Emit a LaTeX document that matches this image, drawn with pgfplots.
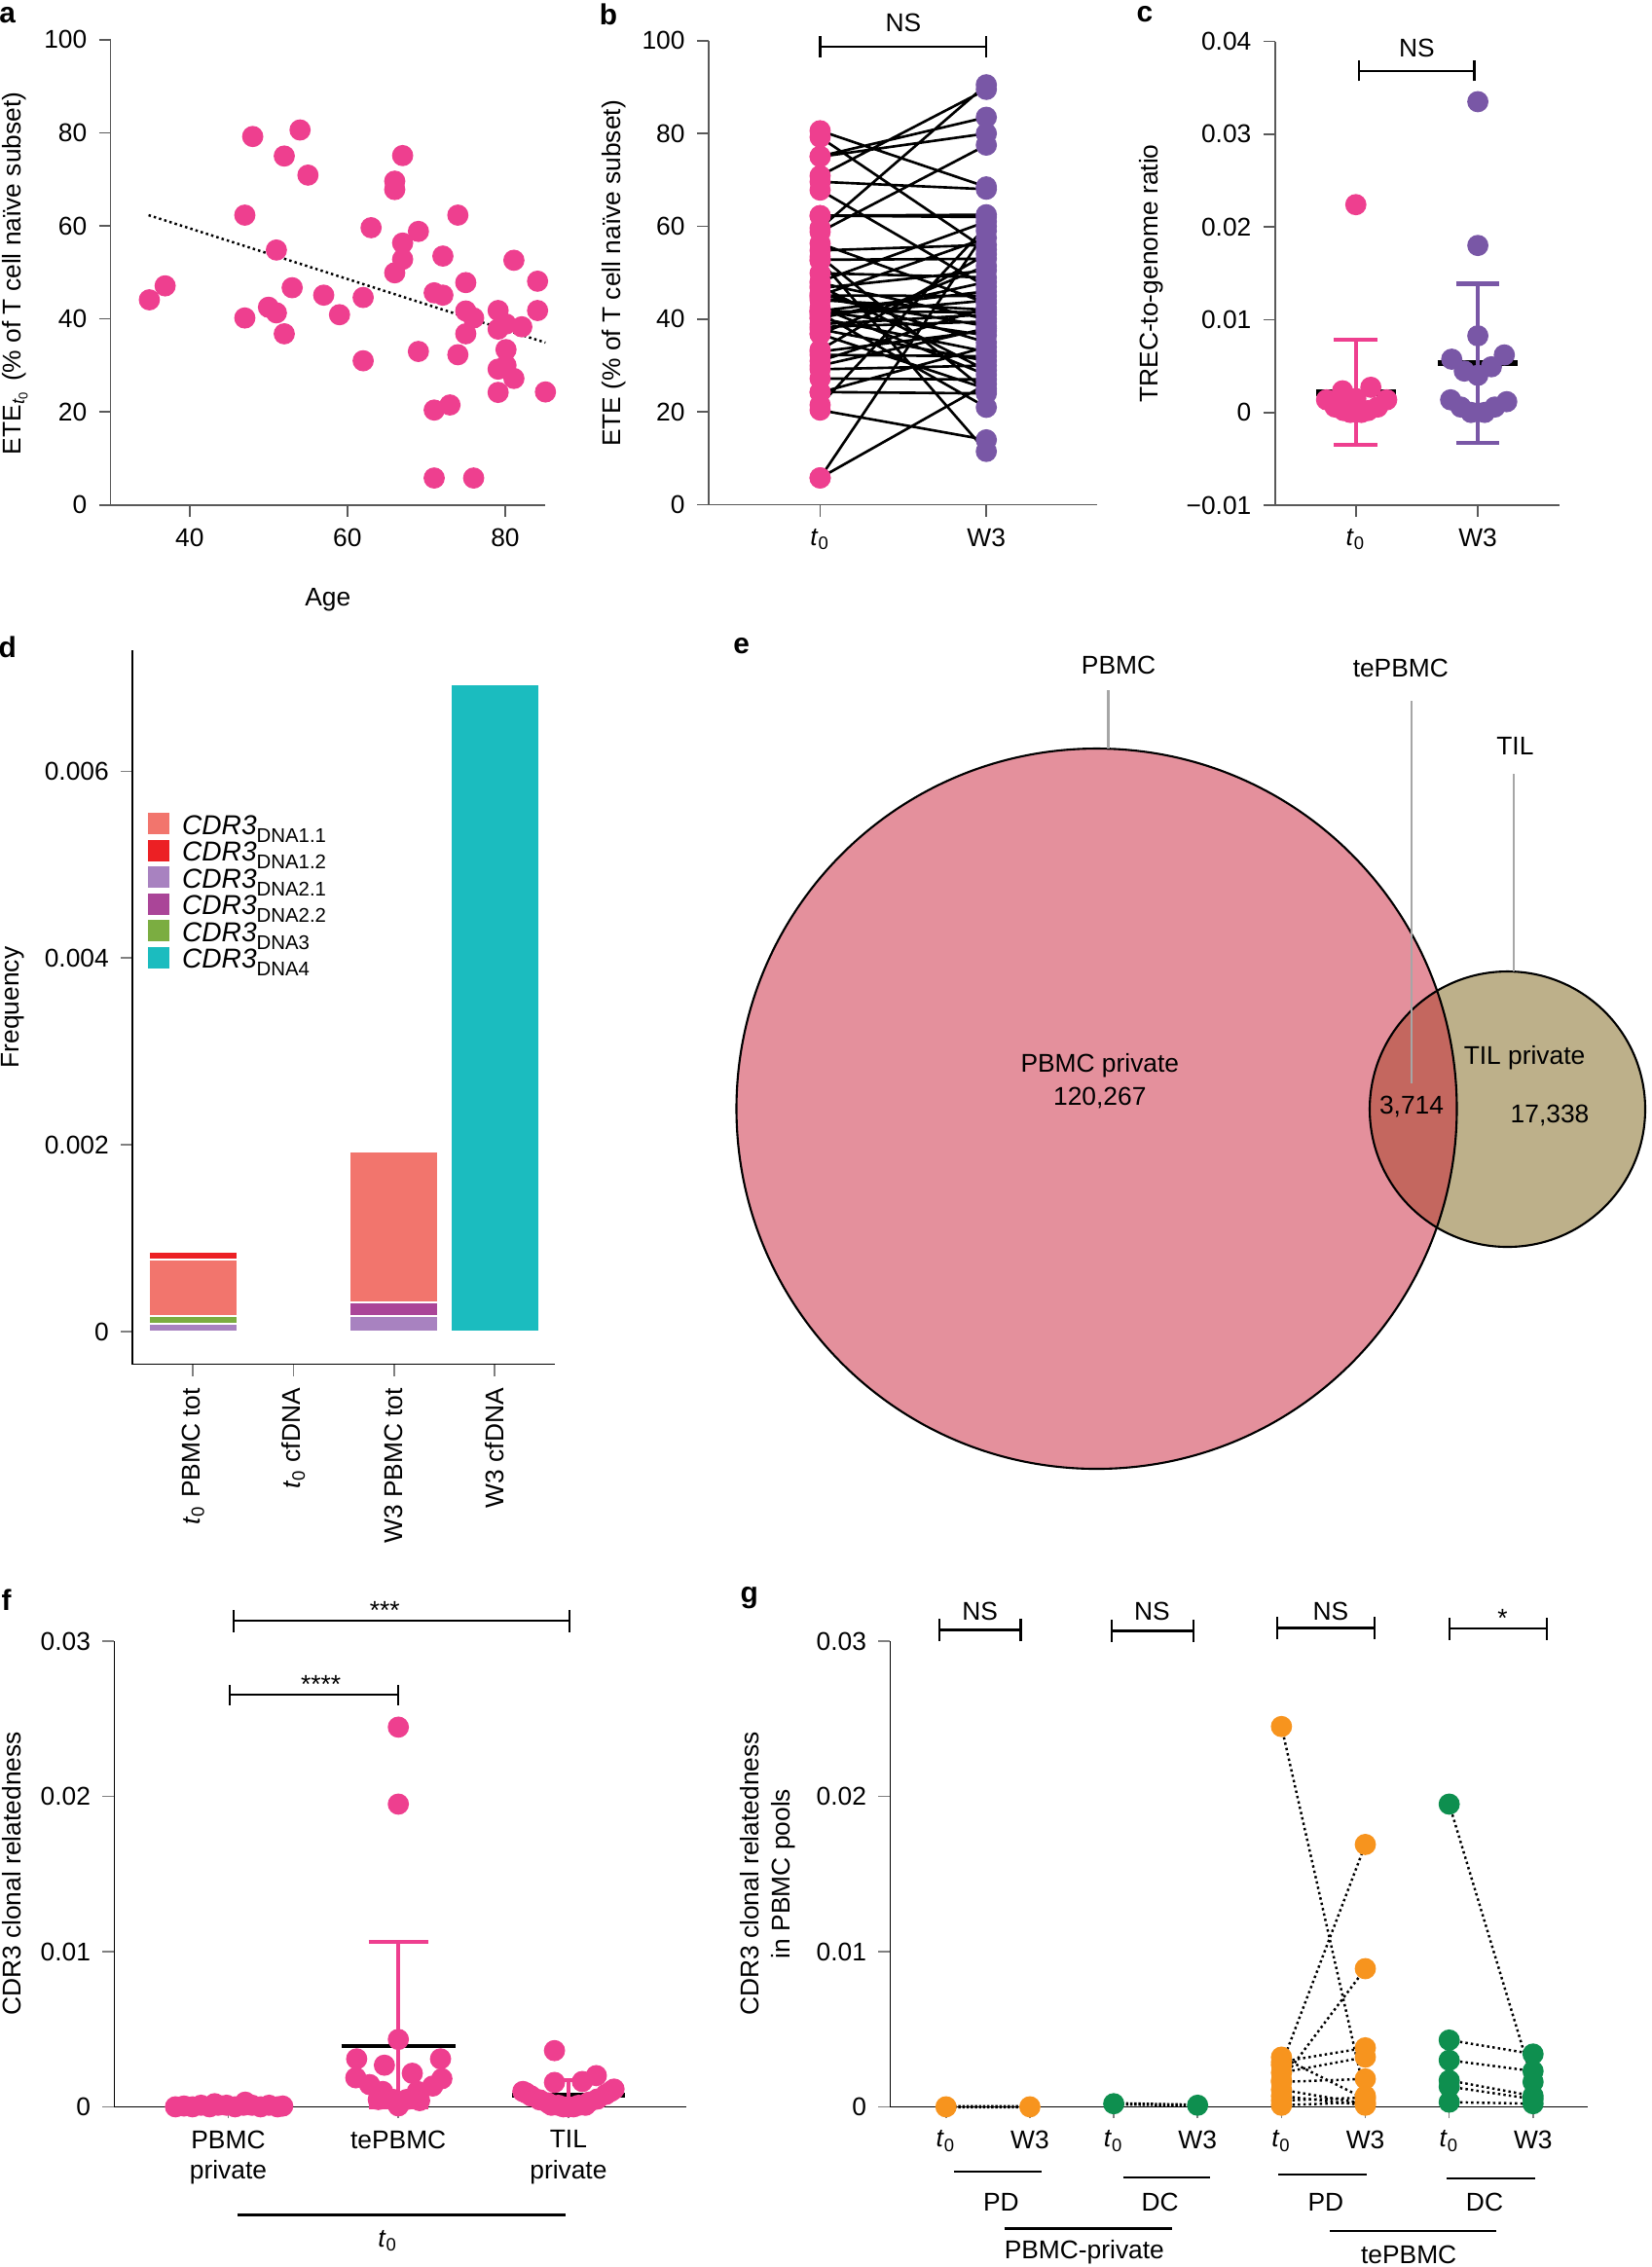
\documentclass[border=0pt]{standalone}
\usepackage{fontspec}
\setmainfont{Liberation Sans}
\usepackage{pgfplots}
\pgfplotsset{compat=1.18}
\definecolor{pk}{RGB}{238,63,143}
\definecolor{pu}{RGB}{121,87,166}
\definecolor{og}{RGB}{247,148,30}
\definecolor{gr}{RGB}{14,143,79}
\definecolor{salmon}{RGB}{242,117,109}
\definecolor{dred}{RGB}{236,32,36}
\definecolor{lilac}{RGB}{168,130,192}
\definecolor{mag}{RGB}{170,69,152}
\definecolor{lgreen}{RGB}{123,173,65}
\definecolor{tealc}{RGB}{27,188,191}
\definecolor{vbig}{RGB}{228,144,156}
\definecolor{vsmall}{RGB}{189,176,138}
\definecolor{vint}{RGB}{196,103,95}
\newcommand{\fs}{\fontsize{7.5}{9}\selectfont}
\newcommand{\tz}{\textit{t}\textsubscript{0}}
\tikzset{brk/.style={line width=0.65pt}}
\pgfplotsset{
  base/.style={scale only axis, axis lines=left, axis line style={-, line width=0.45pt},
    tick style={line width=0.45pt}, tick align=outside, major tick length=1.2mm,
    clip=false, enlargelimits=false, scaled ticks=false, anchor=south west,
    font=\fs, tick label style={font=\fs}},
  gray axes/.style={axis line style={black!65}, tick style={black!65}},
  dotm/.style={only marks, mark=*, mark size=2.9pt},
  dotl/.style={line width=0.7pt, dash pattern=on 0.7pt off 0.9pt},
}
\begin{document}
\begin{tikzpicture}
\path[use as bounding box] (0,0) rectangle (16.97cm,-23.29cm);

% ---------------- panel a ----------------
\begin{axis}[base, gray axes, at={(1.137cm,-5.188cm)}, width=4.458cm, height=4.78cm,
  xmin=30, xmax=85, ymin=0, ymax=100,
  xtick={40,60,80}, xticklabels={40,60,80},
  ytick={0,20,40,60,80,100}, yticklabels={0,20,40,60,80,100}]
\addplot[dotm, pk] coordinates {
(34.9,44.1) (36.9,47.1) (47.0,40.2) (47.0,62.3) (48.0,79.2) (50.0,42.5) (51.0,41.3)
(51.0,54.8) (52.0,75.0) (52.0,36.8) (53.0,46.7) (54.0,80.6) (55.0,70.9) (57.0,45.1)
(59.0,40.9) (62.0,44.6) (62.0,31.0) (63.0,59.6) (66.0,69.6) (66.0,67.8) (66.0,49.9)
(67.0,75.1) (67.0,56.3) (67.0,52.8) (69.0,58.8) (69.0,33.0) (71.0,45.6) (71.0,20.4)
(71.0,5.8) (72.1,53.5) (72.1,45.1) (73.0,21.5) (74.0,62.3) (74.0,32.3) (75.0,47.8)
(75.0,41.7) (75.0,36.8) (76.0,40.2) (76.0,5.8) (79.1,41.8) (79.1,37.8) (79.1,29.2)
(79.1,24.2) (80.1,38.9) (80.1,33.4) (80.1,30.0) (81.1,52.6) (81.1,27.2) (82.1,38.3)
(84.1,48.1) (84.1,41.8) (85.1,24.3)};
\addplot[dotl, black] coordinates {(34.8,62.3) (85.1,34.9)};
\end{axis}

% ---------------- panel b ----------------
\begin{axis}[base, gray axes, at={(7.279cm,-5.186cm)}, width=3.988cm, height=4.768cm,
  xmin=-0.671, xmax=1.665, ymin=0, ymax=100,
  xtick={0,1}, xticklabels={\tz,W3},
  ytick={0,20,40,60,80,100}, yticklabels={0,20,40,60,80,100}]
\addplot[black, line width=0.75pt, unbounded coords=jump] coordinates {
(0,80.6) (1,68.5) (0,nan) (0,79.2) (1,55.0) (0,nan) (0,75.1) (1,83.5) (0,nan)
(0,75.0) (1,80.0) (0,nan) (0,70.9) (1,89.5) (0,nan) (0,69.6) (1,68.0) (0,nan)
(0,67.8) (1,47.0) (0,nan) (0,62.3) (1,62.5) (0,nan) (0,62.3) (1,62.0) (0,nan)
(0,59.6) (1,90.5) (0,nan) (0,58.8) (1,77.5) (0,nan) (0,56.3) (1,43.5) (0,nan)
(0,54.8) (1,56.0) (0,nan) (0,53.5) (1,24.5) (0,nan) (0,52.8) (1,53.0) (0,nan)
(0,52.6) (1,11.5) (0,nan) (0,49.9) (1,49.0) (0,nan) (0,48.1) (1,61.0) (0,nan)
(0,47.8) (1,40.0) (0,nan) (0,47.1) (1,29.0) (0,nan) (0,46.7) (1,50.5) (0,nan)
(0,45.6) (1,35.0) (0,nan) (0,45.1) (1,45.0) (0,nan) (0,45.1) (1,57.5) (0,nan)
(0,44.6) (1,38.5) (0,nan) (0,44.1) (1,42.0) (0,nan) (0,42.5) (1,28.0) (0,nan)
(0,41.8) (1,46.0) (0,nan) (0,41.8) (1,36.5) (0,nan) (0,41.7) (1,41.5) (0,nan)
(0,41.3) (1,21.0) (0,nan) (0,40.9) (1,44.0) (0,nan) (0,40.2) (1,33.0) (0,nan)
(0,40.2) (1,48.0) (0,nan) (0,38.9) (1,41.0) (0,nan) (0,38.3) (1,39.5) (0,nan)
(0,37.8) (1,31.0) (0,nan) (0,36.8) (1,51.5) (0,nan) (0,36.8) (1,25.0) (0,nan)
(0,33.4) (1,54.0) (0,nan) (0,33.0) (1,37.5) (0,nan) (0,32.3) (1,32.0) (0,nan)
(0,31.0) (1,42.5) (0,nan) (0,30.0) (1,38.0) (0,nan) (0,29.2) (1,30.0) (0,nan)
(0,27.2) (1,27.0) (0,nan) (0,24.3) (1,24.0) (0,nan) (0,24.2) (1,34.0) (0,nan)
(0,21.5) (1,60.0) (0,nan) (0,20.4) (1,14.0) (0,nan) (0,5.8) (1,59.0) (0,nan)
(0,5.8) (1,26.0)};
\addplot[dotm, pk] coordinates {
(0,80.6) (0,79.2) (0,75.1) (0,75.0) (0,70.9) (0,69.6) (0,67.8) (0,62.3) (0,62.3)
(0,59.6) (0,58.8) (0,56.3) (0,54.8) (0,53.5) (0,52.8) (0,52.6) (0,49.9) (0,48.1)
(0,47.8) (0,47.1) (0,46.7) (0,45.6) (0,45.1) (0,45.1) (0,44.6) (0,44.1) (0,42.5)
(0,41.8) (0,41.8) (0,41.7) (0,41.3) (0,40.9) (0,40.2) (0,40.2) (0,38.9) (0,38.3)
(0,37.8) (0,36.8) (0,36.8) (0,33.4) (0,33.0) (0,32.3) (0,31.0) (0,30.0) (0,29.2)
(0,27.2) (0,24.3) (0,24.2) (0,21.5) (0,20.4) (0,5.8) (0,5.8)};
\addplot[dotm, pu] coordinates {
(1,90.5) (1,89.5) (1,83.5) (1,80.0) (1,77.5) (1,68.5) (1,68.0) (1,62.5) (1,62.0)
(1,61.0) (1,60.0) (1,59.0) (1,57.5) (1,56.0) (1,55.0) (1,54.0) (1,53.0) (1,51.5)
(1,50.5) (1,49.0) (1,48.0) (1,47.0) (1,46.0) (1,45.0) (1,44.0) (1,43.5) (1,42.5)
(1,42.0) (1,41.5) (1,41.0) (1,40.0) (1,39.5) (1,38.5) (1,38.0) (1,37.5) (1,36.5)
(1,35.0) (1,34.0) (1,33.0) (1,32.0) (1,31.0) (1,30.0) (1,29.0) (1,28.0) (1,27.0)
(1,26.0) (1,25.0) (1,24.5) (1,24.0) (1,21.0) (1,14.0) (1,11.5)};
\draw[brk] (axis cs:0,98.7) -- (axis cs:1,98.7);
\draw[brk] (axis cs:0,96.4) -- (axis cs:0,101);
\draw[brk] (axis cs:1,96.4) -- (axis cs:1,101);
\node at (axis cs:0.5,103.9) {NS};
\end{axis}

% ---------------- panel c ----------------
\begin{axis}[base, gray axes, at={(13.098cm,-5.19cm)}, width=2.92cm, height=4.765cm,
  xmin=-0.662, xmax=1.668, ymin=-0.01, ymax=0.04,
  xtick={0,1}, xticklabels={\tz,W3},
  ytick={-0.01,0,0.01,0.02,0.03,0.04}, yticklabels={−0.01,0,0.01,0.02,0.03,0.04}]
\addplot[black, line width=1.9pt] coordinates {(-0.326,0.00213) (0.326,0.00213)};
\addplot[black, line width=1.9pt] coordinates {(0.67,0.00531) (1.33,0.00531)};
\addplot[pk, line width=1.2pt, unbounded coords=jump] coordinates {
(0,-0.00349) (0,0.00787) (0,nan) (-0.178,0.00787) (0.178,0.00787) (0,nan)
(-0.178,-0.00349) (0.178,-0.00349)};
\addplot[pu, line width=1.2pt, unbounded coords=jump] coordinates {
(1,-0.0033) (1,0.01388) (1,nan) (0.822,0.01388) (1.178,0.01388) (1,nan)
(0.822,-0.0033) (1.178,-0.0033)};
\addplot[dotm, pk] coordinates {
(0,0.0224) (-0.109,0.00233) (0.123,0.00271) (-0.240,0.00136) (0.253,0.00136)
(-0.170,0.00058) (0.178,0.00058) (-0.045,0) (0.045,0) (-0.10,0.0002) (0.10,0.0002)
(0,0.0015)};
\addplot[dotm, pu] coordinates {
(1,0.0335) (1,0.0180) (1,0.00826) (0.786,0.00574) (1.217,0.0062) (0.889,0.00446)
(1.111,0.00492) (1,0.0040) (0.777,0.00136) (1.237,0.00116) (0.861,0.00058)
(1.139,0.00058) (0.944,0) (1.056,0)};
\draw[brk] (axis cs:0.025,0.0368) -- (axis cs:0.972,0.0368);
\draw[brk] (axis cs:0.025,0.0357) -- (axis cs:0.025,0.0380);
\draw[brk] (axis cs:0.972,0.0357) -- (axis cs:0.972,0.0380);
\node at (axis cs:0.5,0.0393) {NS};
\end{axis}

% ---------------- panel d ----------------
\begin{axis}[base, at={(1.362cm,-14.016cm)}, width=4.34cm, height=7.34cm,
  xmin=-0.6, xmax=3.6, ymin=-0.000351, ymax=0.0073,
  ybar stacked, bar width=0.907cm,
  xtick={0,1,2,3},
  xticklabels={\tz{} PBMC tot, \tz{} cfDNA, W3 PBMC tot, W3 cfDNA},
  xticklabel style={rotate=90, anchor=east},
  ytick={0,0.002,0.004,0.006}, yticklabels={0,0.002,0.004,0.006}]
\addplot[fill=lilac, draw=white, line width=0.5pt] coordinates {(0,0.00008) (1,0) (2,0.00017) (3,0)};
\addplot[fill=mag, draw=white, line width=0.5pt] coordinates {(0,0) (1,0) (2,0.00014) (3,0)};
\addplot[fill=lgreen, draw=white, line width=0.5pt] coordinates {(0,0.00009) (1,0) (2,0) (3,0)};
\addplot[fill=salmon, draw=white, line width=0.5pt] coordinates {(0,0.00060) (1,0) (2,0.00162) (3,0)};
\addplot[fill=dred, draw=white, line width=0.5pt] coordinates {(0,0.00008) (1,0) (2,0) (3,0)};
\addplot[fill=tealc, draw=white, line width=0.5pt] coordinates {(0,0) (1,0) (2,0) (3,0.00693)};
\end{axis}
% legend of d
\foreach \c/\n/\yy in {salmon/1.1/8.463, dred/1.2/8.738, lilac/2.1/9.013, mag/2.2/9.288, lgreen/3/9.563, tealc/4/9.838} {
  \fill[\c] (1.519,-\yy+0.11) rectangle (1.741,-\yy-0.11);
  \node[anchor=base west, inner sep=0pt, font=\fontsize{8}{9}\selectfont] at (1.864,-\yy-0.11) {\textit{CDR3}\raisebox{-2.3pt}{\fontsize{5.8}{6}\selectfont DNA\n}};
}

% ---------------- panel e (Venn) ----------------
\begin{axis}[scale only axis, hide axis, at={(7.0cm,-15.4cm)}, anchor=south west,
  width=9.97cm, height=9.0cm, xmin=700, xmax=1697, ymin=-1540, ymax=-640, clip=false, font=\fs]
\addplot[draw=none] coordinates {(700,-640)};
\fill[vbig] (axis cs:1126.5,-1139) circle[radius=3.70cm];
\fill[vsmall] (axis cs:1548.5,-1139.5) circle[radius=1.415cm];
\begin{scope}
\clip (axis cs:1126.5,-1139) circle[radius=3.70cm];
\fill[vint] (axis cs:1548.5,-1139.5) circle[radius=1.415cm];
\end{scope}
\draw[line width=0.6pt] (axis cs:1126.5,-1139) circle[radius=3.70cm];
\draw[line width=0.6pt] (axis cs:1548.5,-1139.5) circle[radius=1.415cm];
\draw[gray!70, line width=0.8pt] (axis cs:1138.7,-709) -- (axis cs:1138.7,-769);
\draw[gray!70, line width=0.8pt] (axis cs:1450,-720) -- (axis cs:1450,-1113);
\draw[gray!70, line width=0.8pt] (axis cs:1555,-795) -- (axis cs:1555,-998);
\node at (axis cs:1149,-683) {PBMC};
\node at (axis cs:1438.8,-686) {tePBMC};
\node at (axis cs:1556.4,-766) {TIL};
\node at (axis cs:1129.8,-1095) {PBMC private};
\node at (axis cs:1129.8,-1128) {120,267};
\node at (axis cs:1450,-1136.5) {3,714};
\node at (axis cs:1566,-1086.6) {TIL private};
\node at (axis cs:1592,-1146) {17,338};
\end{axis}

% ---------------- panel f ----------------
\begin{axis}[base, at={(1.174cm,-21.644cm)}, width=5.876cm, height=4.784cm,
  xmin=-0.670, xmax=2.693, ymin=0, ymax=0.03,
  xtick={0,1,2}, xticklabels={{PBMC\\private}, tePBMC, {TIL\\private}},
  xticklabel style={align=center},
  ytick={0,0.01,0.02,0.03}, yticklabels={0,0.01,0.02,0.03}]
\addplot[dotm, pk] coordinates {
(-0.31,0) (-0.26,0.00005) (-0.21,0) (-0.16,0.0001) (-0.11,0) (-0.06,0.0001) (-0.01,0.0001)
(0.04,0) (0.09,0.0001) (0.14,0.0001) (0.19,0) (0.24,0.0001) (0.29,0) (0.32,0.00005)
(-0.08,0.0002) (0.10,0.0003)};
\addplot[dotm, pk] coordinates {
(1,0.02446) (1,0.0195) (1,0.00434) (0.755,0.00309) (0.918,0.00268) (1.248,0.00309)
(0.750,0.00187) (1.082,0.00216) (1.256,0.00181) (0.831,0.00143) (1.202,0.00134)
(0.908,0.00099) (1.112,0.00099) (0.972,0.00047) (1.049,0.00047) (1,0.00006)
(0.882,0.00047) (1.125,0.0004)};
\addplot[dotm, pk] coordinates {
(1.918,0.00362) (1.918,0.00157) (2.082,0.00163) (2.164,0.00201) (1.732,0.00099)
(2.268,0.00114) (1.78,0.0007) (2.22,0.0008) (1.83,0.00045) (2.17,0.0005)
(1.88,0.00025) (2.12,0.0003) (1.94,0.0001) (2.06,0.0001) (2,0) (1.97,0) (2.03,0)
(1.75,0.0009) (2.25,0.001) (1.9,0.0001) (2.1,0.0001)};
\addplot[black, line width=1.3pt] coordinates {(-0.33,0) (0.33,0)};
\addplot[black, line width=1.3pt] coordinates {(0.665,0.00391) (1.335,0.00391)};
\addplot[black, line width=1.3pt] coordinates {(1.67,0.00076) (2.33,0.00076)};
\addplot[pk, line width=1.2pt, unbounded coords=jump] coordinates {
(1,0) (1,0.01061) (1,nan) (0.825,0.01061) (1.175,0.01061) (1,nan) (0.825,0) (1.175,0)
(1,nan) (2,0) (2,0.00172) (2,nan) (1.87,0.00172) (2.13,0.00172)};
\draw[brk] (axis cs:0.008,0.02655) -- (axis cs:1.0,0.02655);
\draw[brk] (axis cs:0.008,0.02589) -- (axis cs:0.008,0.02721);
\draw[brk] (axis cs:1.0,0.02589) -- (axis cs:1.0,0.02721);
\node at (axis cs:0.544,0.0272) {****};
\draw[brk] (axis cs:0.031,0.0313) -- (axis cs:2.006,0.0313);
\draw[brk] (axis cs:0.031,0.03057) -- (axis cs:0.031,0.03203);
\draw[brk] (axis cs:2.006,0.03057) -- (axis cs:2.006,0.03203);
\node at (axis cs:0.92,0.0320) {***};
\end{axis}
\draw[line width=0.65pt] (2.44,-22.755) -- (5.81,-22.755);
\node[font=\fs] at (3.986,-23.02) {\tz};

% ---------------- panel g ----------------
\begin{axis}[base, at={(9.144cm,-21.644cm)}, width=7.166cm, height=4.784cm,
  xmin=-0.666, xmax=7.652, ymin=0, ymax=0.03,
  xtick={0,1,2,3,4,5,6,7}, xticklabels={\tz,W3,\tz,W3,\tz,W3,\tz,W3},
  ytick={0,0.01,0.02,0.03}, yticklabels={0,0.01,0.02,0.03}]
\addplot[dotm, og] coordinates {(0,0) (1,0)
(4,0.0245) (4,0.0032) (4,0.0029) (4,0.0027) (4,0.0022) (4,0.0017) (4,0.0016) (4,0.0011)
(4,0.0007) (4,0.0004) (4,0.0001)
(5,0.0169) (5,0.0089) (5,0.0038) (5,0.0032) (5,0.0018) (5,0.0007) (5,0.0006) (5,0.0005)
(5,0.0003) (5,0.0002) (5,0.0001)};
\addplot[dotm, gr] coordinates {(2,0.0002) (3,0.0001)
(6,0.0195) (6,0.0043) (6,0.0030) (6,0.0017) (6,0.0013) (6,0.0003)
(7,0.0034) (7,0.0023) (7,0.0016) (7,0.0007) (7,0.0005) (7,0.0002)};
\addplot[black, line width=1.0pt, dash pattern=on 0.7pt off 0.5pt, unbounded coords=jump] coordinates {
(0,0) (1,0) (0,nan) (2,0.0002) (3,0.0001)};
\addplot[dotl, black, unbounded coords=jump] coordinates {
(4,0.0245) (5,0.0007) (4,nan) (4,0.0027) (5,0.0169) (4,nan) (4,0.0017) (5,0.0089) (4,nan)
(4,0.0029) (5,0.0038) (4,nan) (4,0.0022) (5,0.0032) (4,nan) (4,0.0016) (5,0.0018) (4,nan)
(4,0.0032) (5,0.0005) (4,nan) (4,0.0011) (5,0.0002) (4,nan) (4,0.0007) (5,0.0001) (4,nan)
(4,0.0004) (5,0.0006) (4,nan) (4,0.0001) (5,0.0003) (4,nan)
(6,0.0195) (7,0.0016) (6,nan) (6,0.0043) (7,0.0034) (6,nan) (6,0.0030) (7,0.0023) (6,nan)
(6,0.0017) (7,0.0007) (6,nan) (6,0.0013) (7,0.0005) (6,nan) (6,0.0003) (7,0.0002)};
\draw[brk] (axis cs:-0.079,0.03072) -- (axis cs:0.892,0.03072);
\draw[brk] (axis cs:-0.079,0.02999) -- (axis cs:-0.079,0.03145);
\draw[brk] (axis cs:0.892,0.02999) -- (axis cs:0.892,0.03145);
\node at (axis cs:0.406,0.03194) {NS};
\draw[brk] (axis cs:1.978,0.03066) -- (axis cs:2.949,0.03066);
\draw[brk] (axis cs:1.978,0.02993) -- (axis cs:1.978,0.03139);
\draw[brk] (axis cs:2.949,0.02993) -- (axis cs:2.949,0.03139);
\node at (axis cs:2.457,0.03194) {NS};
\draw[brk] (axis cs:3.949,0.03085) -- (axis cs:5.108,0.03085);
\draw[brk] (axis cs:3.949,0.03012) -- (axis cs:3.949,0.03158);
\draw[brk] (axis cs:5.108,0.03012) -- (axis cs:5.108,0.03158);
\node at (axis cs:4.587,0.03194) {NS};
\draw[brk] (axis cs:6.007,0.0308) -- (axis cs:7.166,0.0308);
\draw[brk] (axis cs:6.007,0.03007) -- (axis cs:6.007,0.03153);
\draw[brk] (axis cs:7.166,0.03007) -- (axis cs:7.166,0.03153);
\node at (axis cs:6.637,0.0315) {*};
\end{axis}
% g group annotations
\draw[line width=0.65pt] (9.798,-22.313) -- (10.696,-22.313);
\draw[line width=0.65pt] (11.537,-22.369) -- (12.434,-22.369);
\draw[line width=0.65pt] (13.132,-22.337) -- (14.035,-22.337);
\draw[line width=0.65pt] (14.864,-22.383) -- (15.768,-22.383);
\draw[line width=0.65pt] (10.316,-22.894) -- (12.035,-22.894);
\draw[line width=0.65pt] (13.662,-22.918) -- (15.369,-22.918);
\node[font=\fs] at (10.284,-22.625) {PD};
\node[font=\fs] at (11.917,-22.625) {DC};
\node[font=\fs] at (13.618,-22.625) {PD};
\node[font=\fs] at (15.25,-22.625) {DC};
\node[font=\fs] at (11.138,-23.136) {PBMC-private};
\node[font=\fs] at (14.472,-23.16) {tePBMC};

% ---------------- axis titles ----------------
\node[font=\fs] at (3.368,-6.164) {Age};
\node[font=\fs, rotate=90] at (0.153,-2.808) {ETE\textsubscript{\textit{t}\textsubscript{0}} (\% of T cell naïve subset)};
\node[font=\fs, rotate=90] at (6.304,-2.81) {ETE (\% of T cell naïve subset)};
\node[font=\fs, rotate=90] at (11.83,-2.81) {TREC-to-genome ratio};
\node[font=\fs, rotate=90] at (0.13,-10.35) {Frequency};
\node[font=\fs, rotate=90] at (0.12,-19.25) {CDR3 clonal relatedness};
\node[font=\fs, rotate=90, align=center] at (7.885,-19.25) {CDR3 clonal relatedness\\in PBMC pools};

% ---------------- panel letters ----------------
\node[font=\fontsize{8.5}{10}\bfseries\selectfont] at (0.077,-0.16) {a};
\node[font=\fontsize{8.5}{10}\bfseries\selectfont] at (6.25,-0.148) {b};
\node[font=\fontsize{8.5}{10}\bfseries\selectfont] at (11.76,-0.148) {c};
\node[font=\fontsize{8.5}{10}\bfseries\selectfont] at (0.077,-6.645) {d};
\node[font=\fontsize{8.5}{10}\bfseries\selectfont] at (7.617,-6.64) {e};
\node[font=\fontsize{8.5}{10}\bfseries\selectfont] at (0.067,-16.44) {f};
\node[font=\fontsize{8.5}{10}\bfseries\selectfont] at (7.698,-16.418) {g};
\end{tikzpicture}
\end{document}
